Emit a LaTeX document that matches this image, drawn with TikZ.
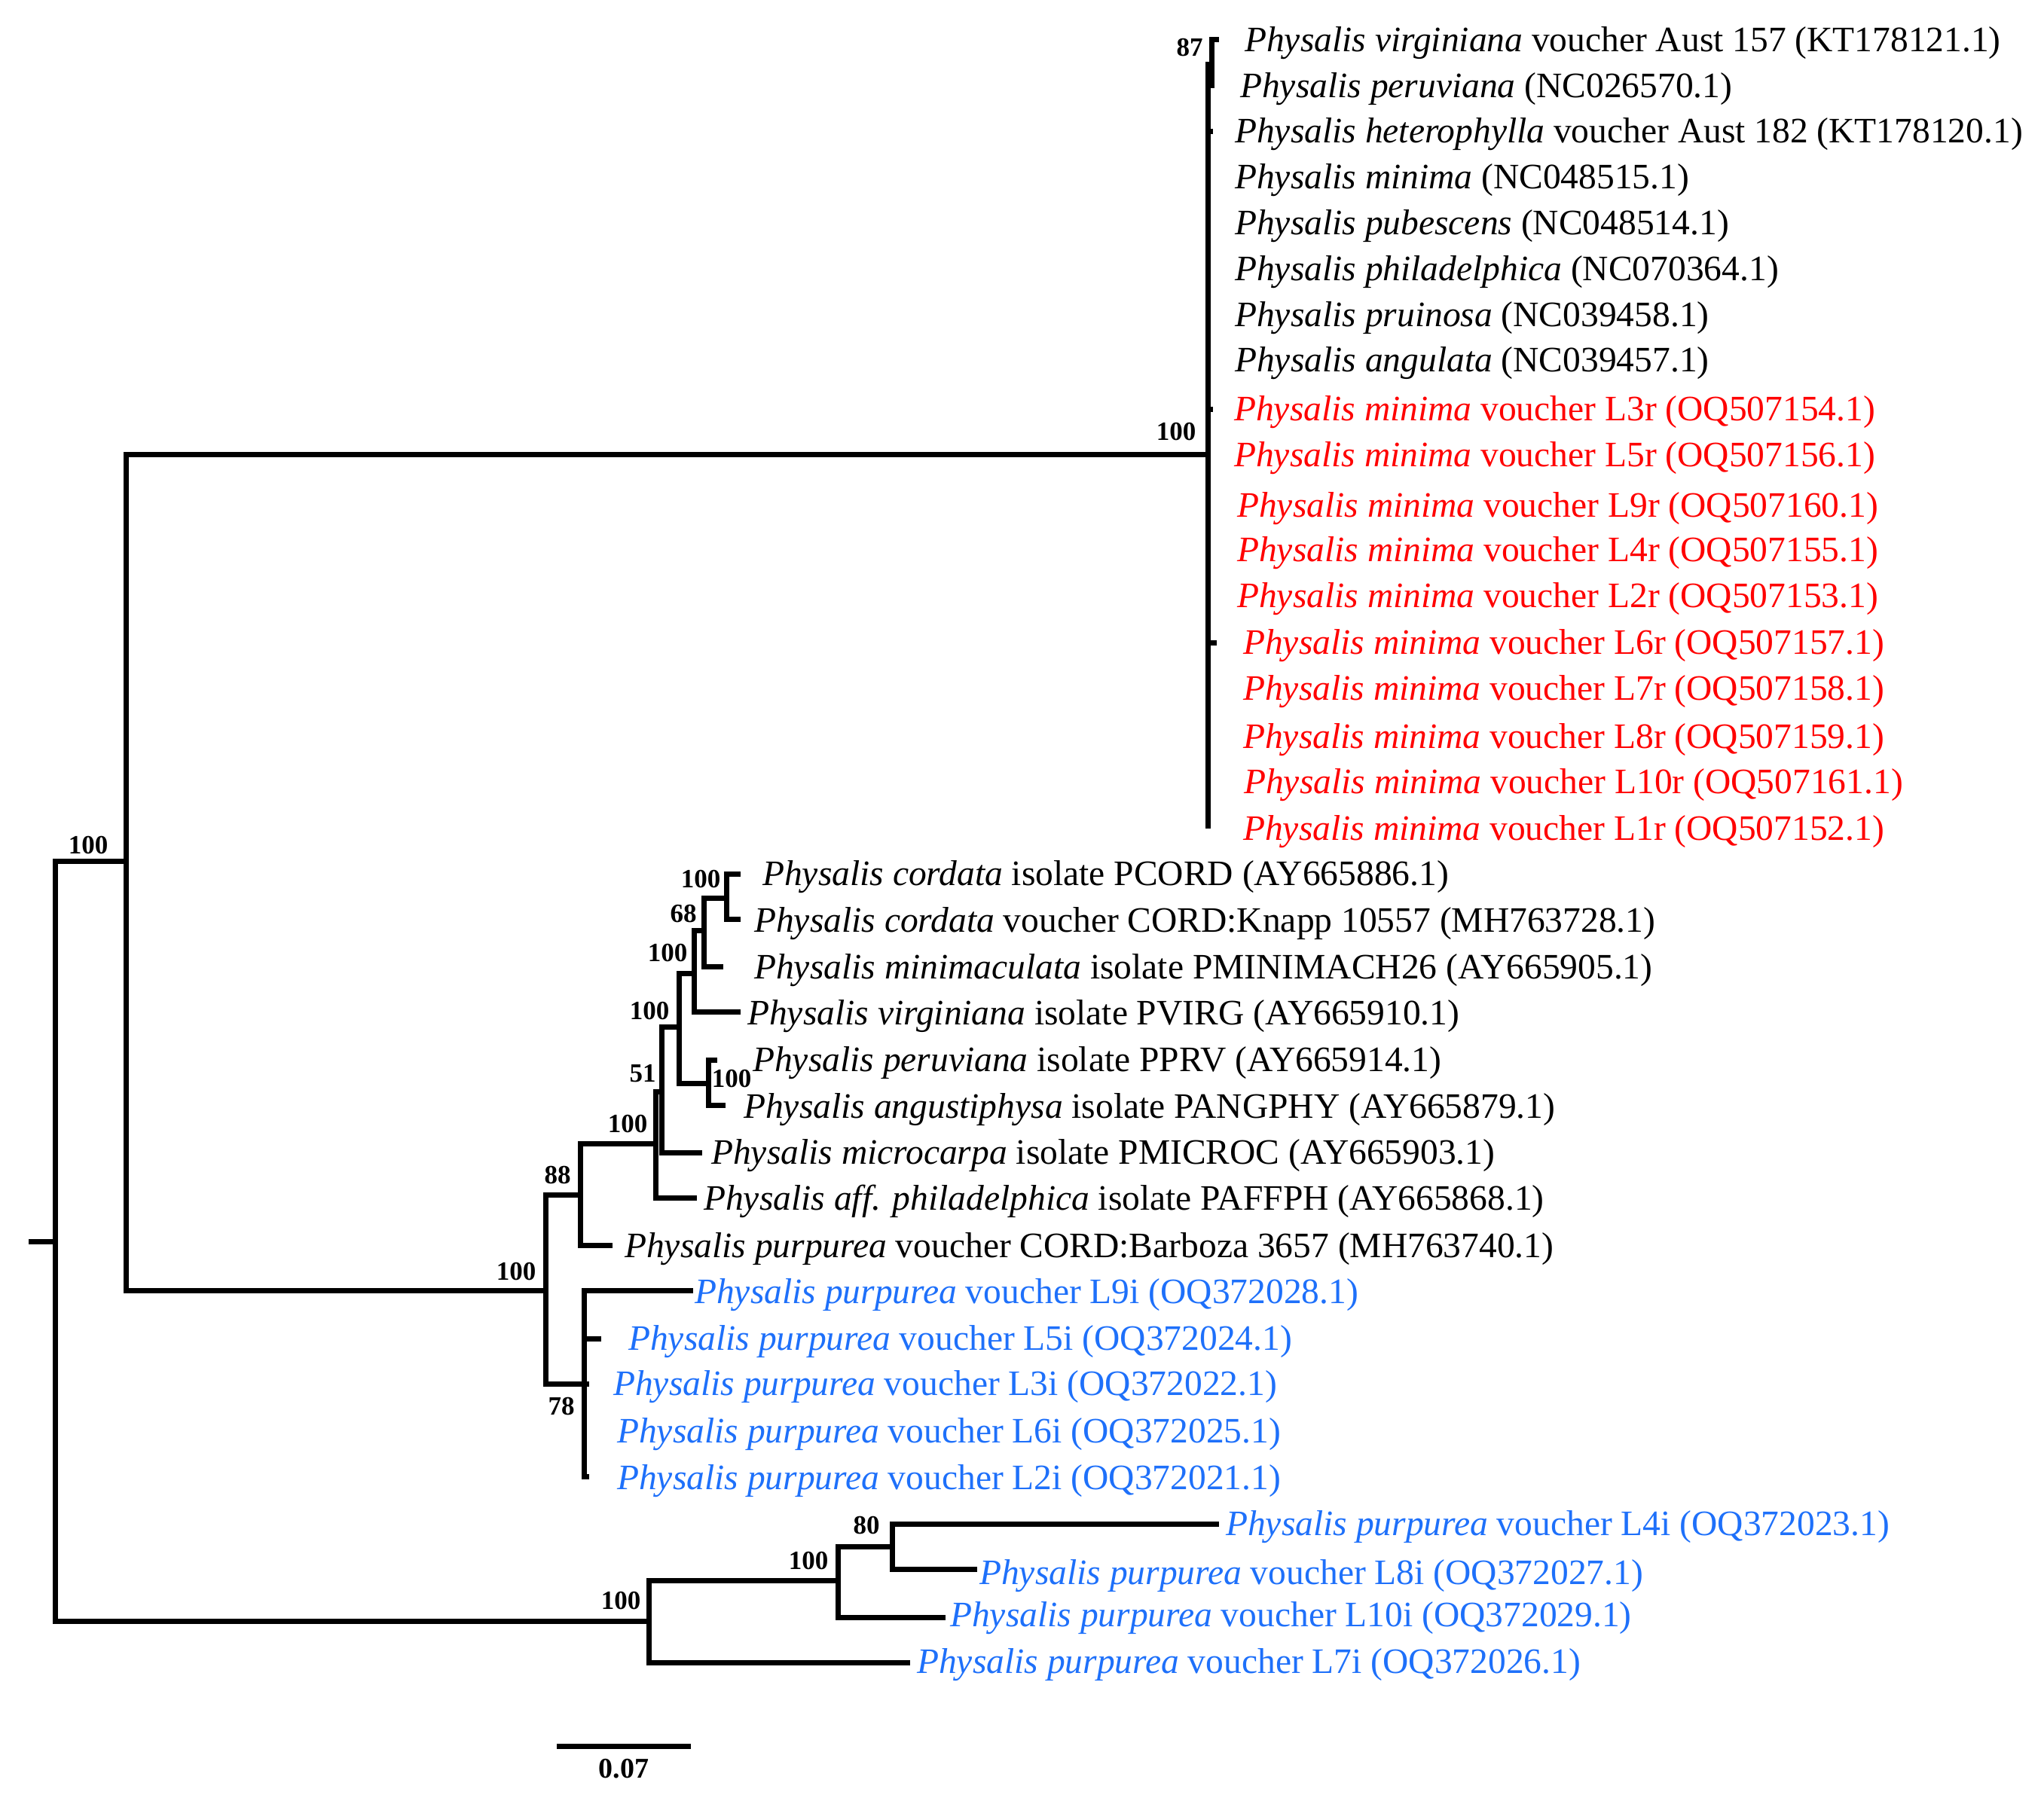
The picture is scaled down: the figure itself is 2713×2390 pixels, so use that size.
\documentclass[tikz,border=0pt]{standalone}
\usepackage{fontspec}
\setmainfont{Liberation Serif}
\definecolor{tred}{RGB}{255,0,0}
\definecolor{tblue}{RGB}{30,112,250}
\newcommand{\spn}[1]{\textit{#1}}
\begin{document}
\begin{tikzpicture}[x=1pt,y=-1pt,
  br/.style={line width=7pt, line join=miter},
  tip/.style={anchor=base west, inner sep=0pt, font=\fontsize{47.5}{50}\selectfont},
  redtip/.style={tip, text=tred},
  bluetip/.style={tip, text=tblue},
  bs/.style={anchor=center, inner sep=0pt, font=\fontsize{35}{36}\selectfont\bfseries},
]
\useasboundingbox (0,0) rectangle (2713,2390);
% ---------- node coordinates ----------
\coordinate (stub) at (38,1648);
\coordinate (root) at (73,1648);
\coordinate (nA) at (167,1143);
\coordinate (nB) at (861,2152);
\coordinate (nU) at (1603,603);
\coordinate (nL) at (724,1713);
\coordinate (n87) at (1608,85);
% upper tips
\coordinate (e1) at (1618,53);
\coordinate (e2) at (1608,117);
\coordinate (e3) at (1610,174);
\coordinate (e4) at (1603,235);
\coordinate (e5) at (1603,296);
\coordinate (e6) at (1603,357);
\coordinate (e7) at (1603,418);
\coordinate (e8) at (1603,478);
\coordinate (e9) at (1610,543);
\coordinate (e10) at (1603,604);
\coordinate (e11) at (1603,671);
\coordinate (e12) at (1603,730);
\coordinate (e13) at (1603,791);
\coordinate (e14) at (1615,853);
\coordinate (e15) at (1603,914);
\coordinate (e16) at (1603,978);
\coordinate (e17) at (1603,1038);
\coordinate (e18) at (1603,1100);
% middle clade
\coordinate (n88) at (770,1586);
\coordinate (e27) at (813,1653);
\coordinate (nD1) at (870,1518);
\coordinate (e26) at (925,1590);
\coordinate (n51) at (878,1449);
\coordinate (e25) at (932,1530);
\coordinate (nB1) at (901,1363);
\coordinate (nC1) at (940,1438);
\coordinate (e23) at (952,1407);
\coordinate (e24) at (963,1467);
\coordinate (nA1) at (921,1292);
\coordinate (e22) at (983,1343);
\coordinate (n68) at (934,1235);
\coordinate (e21) at (960,1283);
\coordinate (ncord) at (964,1192);
\coordinate (e19) at (983,1160);
\coordinate (e20) at (983,1220);
\coordinate (n78) at (775,1837);
\coordinate (e28) at (920,1713);
\coordinate (e29) at (798,1777);
\coordinate (e30) at (782,1837);
\coordinate (e31) at (775,1900);
\coordinate (e32) at (782,1960);
% bottom clade
\coordinate (nC) at (1112,2098);
\coordinate (nD) at (1184,2053);
\coordinate (e33) at (1618,2023);
\coordinate (e34) at (1297,2083);
\coordinate (e35) at (1255,2147);
\coordinate (e36) at (1208,2207);
% scale bar
\coordinate (sb1) at (739,2318);
\coordinate (sb2) at (917,2318);

% ---------- branches ----------
\draw[br] (stub) -- (root);
\draw[br] (root) |- (nA);
\draw[br] (root) |- (nB);
\draw[br] (nA) |- (nU);
\draw[br] (nA) |- (nL);
\draw[br] (nU) |- (n87);
\draw[br] (n87) |- (e1);
\draw[br] (n87) |- (e2);
\foreach \i in {3,...,18} {\draw[br] (nU) |- (e\i);}
\draw[br] (nL) |- (n88);
\draw[br] (nL) |- (n78);
\draw[br] (n88) |- (nD1);
\draw[br] (n88) |- (e27);
\draw[br] (nD1) |- (n51);
\draw[br] (nD1) |- (e26);
\draw[br] (n51) |- (nB1);
\draw[br] (n51) |- (e25);
\draw[br] (nB1) |- (nA1);
\draw[br] (nB1) |- (nC1);
\draw[br] (nC1) |- (e23);
\draw[br] (nC1) |- (e24);
\draw[br] (nA1) |- (n68);
\draw[br] (nA1) |- (e22);
\draw[br] (n68) |- (ncord);
\draw[br] (n68) |- (e21);
\draw[br] (ncord) |- (e19);
\draw[br] (ncord) |- (e20);
\foreach \i in {28,...,32} {\draw[br] (n78) |- (e\i);}
\draw[br] (nB) |- (nC);
\draw[br] (nB) |- (e36);
\draw[br] (nC) |- (nD);
\draw[br] (nC) |- (e35);
\draw[br] (nD) |- (e33);
\draw[br] (nD) |- (e34);
\draw[br] (sb1) -- (sb2);

% ---------- bootstrap values ----------
\node[bs] (bA) at (117,1122) {100};
\node[bs] (bU) at (1561,573) {100};
\node[bs] (b87) at (1579,63) {87};
\node[bs] (bL) at (685,1688) {100};
\node[bs] (b88) at (740,1560) {88};
\node[bs] (bD1) at (833,1492) {100};
\node[bs] (b51) at (853,1425) {51};
\node[bs] (bB1) at (862,1342) {100};
\node[bs] (bC1) at (971,1432) {100};
\node[bs] (bA1) at (886,1265) {100};
\node[bs] (b68) at (907,1213) {68};
\node[bs] (bcord) at (930,1167) {100};
\node[bs] (b78) at (745,1867) {78};
\node[bs] (bB) at (824,2125) {100};
\node[bs] (bC) at (1073,2072) {100};
\node[bs] (bD) at (1150,2025) {80};
\node[bs, font=\fontsize{38}{40}\selectfont\bfseries] (sbl) at (828,2348) {0.07};

% ---------- taxon labels ----------
\node[tip] (t1) at (1652,68) {\spn{Physalis virginiana} voucher Aust 157 (KT178121.1)};
\node[tip] (t2) at (1646,129) {\spn{Physalis peruviana} (NC026570.1)};
\node[tip] (t3) at (1639,189) {\spn{Physalis heterophylla} voucher Aust 182 (KT178120.1)};
\node[tip] (t4) at (1639,250) {\spn{Physalis minima} (NC048515.1)};
\node[tip] (t5) at (1639,311) {\spn{Physalis pubescens} (NC048514.1)};
\node[tip] (t6) at (1639,372) {\spn{Physalis philadelphica} (NC070364.1)};
\node[tip] (t7) at (1639,433) {\spn{Physalis pruinosa} (NC039458.1)};
\node[tip] (t8) at (1639,493) {\spn{Physalis angulata} (NC039457.1)};
\node[redtip] (t9) at (1638,558) {\spn{Physalis minima} voucher L3r (OQ507154.1)};
\node[redtip] (t10) at (1638,619) {\spn{Physalis minima} voucher L5r (OQ507156.1)};
\node[redtip] (t11) at (1642,686) {\spn{Physalis minima} voucher L9r (OQ507160.1)};
\node[redtip] (t12) at (1642,745) {\spn{Physalis minima} voucher L4r (OQ507155.1)};
\node[redtip] (t13) at (1642,806) {\spn{Physalis minima} voucher L2r (OQ507153.1)};
\node[redtip] (t14) at (1650,868) {\spn{Physalis minima} voucher L6r (OQ507157.1)};
\node[redtip] (t15) at (1650,929) {\spn{Physalis minima} voucher L7r (OQ507158.1)};
\node[redtip] (t16) at (1650,993) {\spn{Physalis minima} voucher L8r (OQ507159.1)};
\node[redtip] (t17) at (1651,1053) {\spn{Physalis minima} voucher L10r (OQ507161.1)};
\node[redtip] (t18) at (1650,1115) {\spn{Physalis minima} voucher L1r (OQ507152.1)};
\node[tip] (t19) at (1012,1175) {\spn{Physalis cordata} isolate PCORD (AY665886.1)};
\node[tip] (t20) at (1001,1237) {\spn{Physalis cordata} voucher CORD:Knapp 10557 (MH763728.1)};
\node[tip] (t21) at (1001,1299) {\spn{Physalis minimaculata} isolate PMINIMACH26 (AY665905.1)};
\node[tip] (t22) at (992,1360) {\spn{Physalis virginiana} isolate PVIRG (AY665910.1)};
\node[tip] (t23) at (999,1422) {\spn{Physalis peruviana} isolate PPRV (AY665914.1)};
\node[tip] (t24) at (987,1484) {\spn{Physalis angustiphysa} isolate PANGPHY (AY665879.1)};
\node[tip] (t25) at (944,1545) {\spn{Physalis microcarpa} isolate PMICROC (AY665903.1)};
\node[tip] (t26) at (934,1606) {\spn{Physalis aff. philadelphica} isolate PAFFPH (AY665868.1)};
\node[tip] (t27) at (829,1669) {\spn{Physalis purpurea} voucher CORD:Barboza 3657 (MH763740.1)};
\node[bluetip] (t28) at (922,1730) {\spn{Physalis purpurea} voucher L9i (OQ372028.1)};
\node[bluetip] (t29) at (834,1792) {\spn{Physalis purpurea} voucher L5i (OQ372024.1)};
\node[bluetip] (t30) at (814,1852) {\spn{Physalis purpurea} voucher L3i (OQ372022.1)};
\node[bluetip] (t31) at (819,1915) {\spn{Physalis purpurea} voucher L6i (OQ372025.1)};
\node[bluetip] (t32) at (819,1977) {\spn{Physalis purpurea} voucher L2i (OQ372021.1)};
\node[bluetip] (t33) at (1627,2038) {\spn{Physalis purpurea} voucher L4i (OQ372023.1)};
\node[bluetip] (t34) at (1300,2103) {\spn{Physalis purpurea} voucher L8i (OQ372027.1)};
\node[bluetip] (t35) at (1261,2159) {\spn{Physalis purpurea} voucher L10i (OQ372029.1)};
\node[bluetip] (t36) at (1217,2221) {\spn{Physalis purpurea} voucher L7i (OQ372026.1)};
\end{tikzpicture}
\end{document}
